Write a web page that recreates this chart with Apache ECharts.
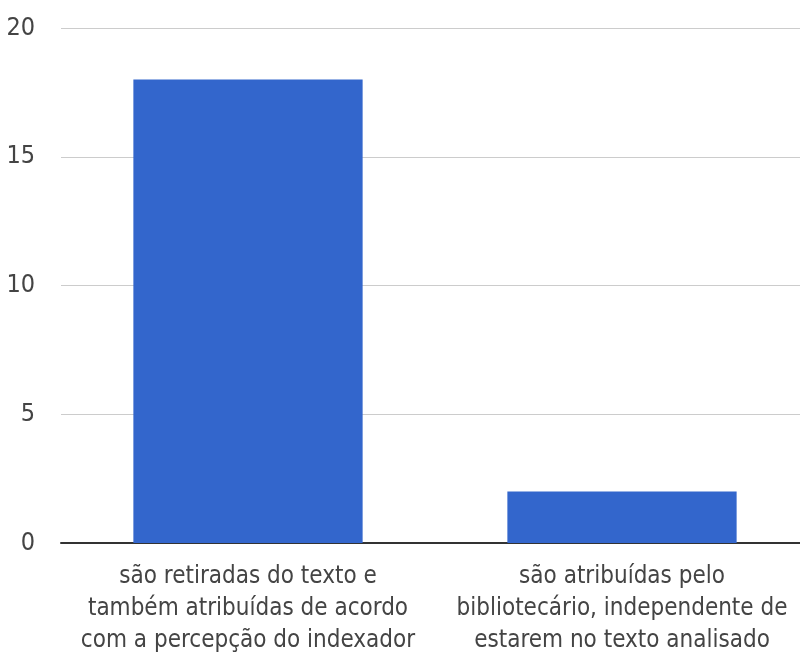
<!DOCTYPE html>
<html>
<head>
<meta charset="utf-8">
<script src="https://cdn.jsdelivr.net/npm/echarts@6/dist/echarts.min.js"></script>
<style>
html,body{margin:0;padding:0;background:#fff;overflow:hidden;width:800px;height:659px;}
#chart{width:809px;height:659px;}
</style>
</head>
<body>
<div id="chart"></div>
<script>
const categories = [
  "são retiradas do texto e\ntambém atribuídas de acordo\ncom a percepção do indexador",
  "são atribuídas pelo\nbibliotecário, independente de\nestarem no texto analisado"
];
const values = [18, 2];
const yTicks = [0, 5, 10, 15, 20];

const FONT = "'DejaVu Sans Condensed', 'Roboto', sans-serif";
const chart = echarts.init(document.getElementById('chart'));
chart.setOption({
  animation: false,
  grid: { left: 61, top: 28, right: 0, bottom: 116, containLabel: false },
  xAxis: {
    type: 'category',
    data: categories,
    axisLine: { lineStyle: { color: '#333', width: 2 } },
    axisTick: { show: false },
    axisLabel: {
      interval: 0,
      margin: 18,
      fontFamily: FONT,
      fontSize: 24,
      lineHeight: 32,
      color: '#444',
      align: 'center'
    }
  },
  yAxis: {
    type: 'value',
    min: yTicks[0],
    max: yTicks[yTicks.length - 1],
    interval: 5,
    axisLine: { show: false },
    axisTick: { show: false },
    splitLine: { lineStyle: { color: '#cccccc', width: 1 } },
    axisLabel: {
      margin: 26,
      fontFamily: FONT,
      fontSize: 25,
      color: '#444',
      padding: [3, 0, 0, 0]
    }
  },
  series: [{
    type: 'bar',
    data: values,
    barWidth: '61.3%',
    itemStyle: { color: '#3366cc' }
  }]
});
</script>
</body>
</html>
